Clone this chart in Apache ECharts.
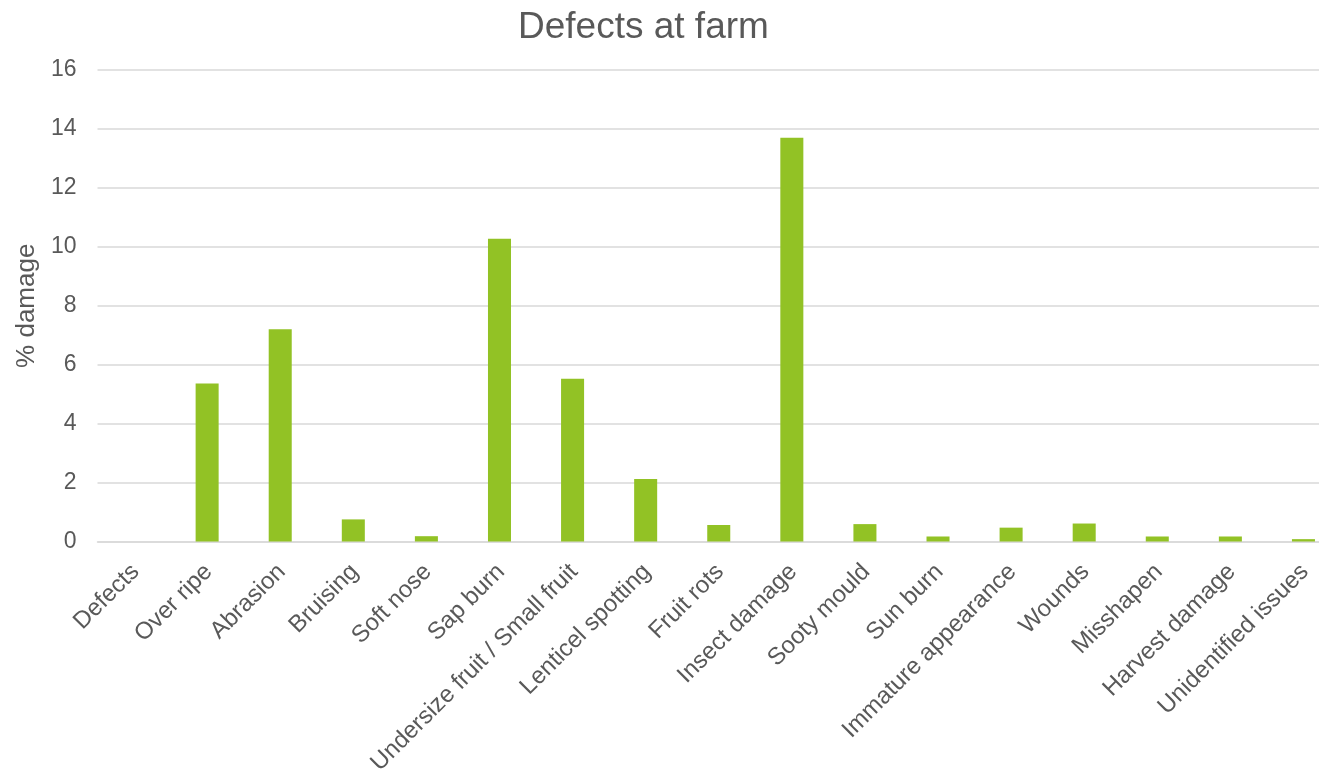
<!DOCTYPE html>
<html>
<head>
<meta charset="utf-8">
<script src="https://cdn.jsdelivr.net/npm/echarts@6/dist/echarts.min.js"></script>
<style>
html,body{margin:0;padding:0;background:#fff;}
#chart{width:1319px;height:769px;}
</style>
</head>
<body>
<div id="chart"></div>
<script>
const categories = ["Defects","Over ripe","Abrasion","Bruising","Soft nose","Sap burn","Undersize fruit / Small fruit","Lenticel spotting","Fruit rots","Insect damage","Sooty mould","Sun burn","Immature appearance","Wounds","Misshapen","Harvest damage","Unidentified issues"];
const damageValues = [0, 5.36, 7.2, 0.75, 0.18, 10.27, 5.52, 2.12, 0.56, 13.7, 0.59, 0.17, 0.47, 0.61, 0.17, 0.17, 0.08];
const yTicks = [0, 2, 4, 6, 8, 10, 12, 14, 16];
const titleText = "Defects at farm";
const yAxisName = "% damage";

const chart = echarts.init(document.getElementById('chart'), null, {renderer: 'canvas'});
const font = "'Liberation Sans', Arial, sans-serif";
chart.setOption({
  animation: false,
  backgroundColor: '#ffffff',
  title: {
    text: titleText,
    left: 518,
    top: 9,
    padding: 0,
    textStyle: {fontFamily: font, fontSize: 37, fontWeight: 'normal', color: '#595959'}
  },
  grid: {left: 97.5, right: -21, top: 70, bottom: 227.5, containLabel: false, outerBoundsMode: 'none'},
  xAxis: {
    type: 'category',
    data: categories,
    axisLine: {show: true, lineStyle: {color: '#d9d9d9', width: 1.5}},
    axisTick: {show: false},
    axisLabel: {
      interval: 0,
      rotate: 45,
      align: 'right',
      verticalAlign: 'top',
      margin: 11,
      padding: [0, 10, 0, 0],
      fontFamily: font,
      fontSize: 24,
      color: '#595959'
    }
  },
  yAxis: {
    type: 'value',
    min: yTicks[0],
    max: yTicks[yTicks.length - 1],
    interval: 2,
    name: yAxisName,
    nameLocation: 'middle',
    nameGap: 58,
    nameTextStyle: {fontFamily: font, fontSize: 26, color: '#595959'},
    axisLine: {show: false},
    axisTick: {show: false},
    axisLabel: {margin: 21, fontFamily: font, fontSize: 23, color: '#595959'},
    splitLine: {lineStyle: {color: '#d9d9d9', width: 1.5}}
  },
  series: [{
    type: 'bar',
    data: damageValues,
    barWidth: '31.5%',
    itemStyle: {color: '#92C225'}
  }]
});
</script>
</body>
</html>
